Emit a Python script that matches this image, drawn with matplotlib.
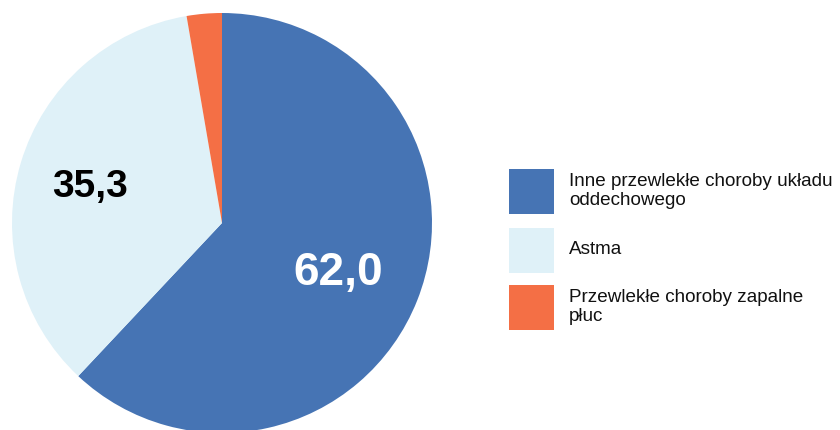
import matplotlib
matplotlib.use("Agg")
import matplotlib.pyplot as plt
from matplotlib.patches import Rectangle

plt.rcParams['font.family'] = ['Liberation Sans', 'DejaVu Sans']

labels = ["Inne przewlekłe choroby układu\noddechowego", "Astma",
          "Przewlekłe choroby zapalne\npłuc"]
values = [62.0, 35.3, 2.7]
value_labels = ["62,0", "35,3", ""]
colors = ["#4674b4", "#dff1f8", "#f46f45"]
label_colors = ["white", "black", "black"]
label_sizes = [33, 28, 10]

fig = plt.figure(figsize=(8.4, 4.3), dpi=100)
W, H = 840, 430

# pie axes in pixel terms: centre (222, 223), radius 210
cx, cy, r = 222, 223, 210
ax = fig.add_axes([(cx - r) / W, (H - cy - r) / H, 2 * r / W, 2 * r / H])
wedges, _ = ax.pie(values, colors=colors, startangle=90, counterclock=False,
                   radius=1.0, wedgeprops=dict(linewidth=0))
ax.set_xlim(-1, 1)
ax.set_ylim(-1, 1)
ax.set_aspect('equal')
ax.axis('off')

# value labels, placed in data coords of the pie axes
label_pos = [(0.555, -0.24), (-0.63, 0.17), (0, 0)]
for (x, y), txt, c, s in zip(label_pos, value_labels, label_colors, label_sizes):
    if txt:
        ax.text(x, y, txt, color=c, fontsize=s, fontweight='bold',
                ha='center', va='center')

# legend drawn by hand
box_tops = [169, 228, 285]
for top, lab, col in zip(box_tops, labels, colors):
    fig.patches.append(Rectangle((509 / W, (H - top - 45) / H), 45 / W, 45 / H,
                                 transform=fig.transFigure, facecolor=col,
                                 edgecolor='none'))
    fig.text(569 / W, (H - top - 22) / H, lab, fontsize=13.6, ha='left',
             va='center', linespacing=1.1, color='#111111')

fig.savefig("out.png", dpi=100)
